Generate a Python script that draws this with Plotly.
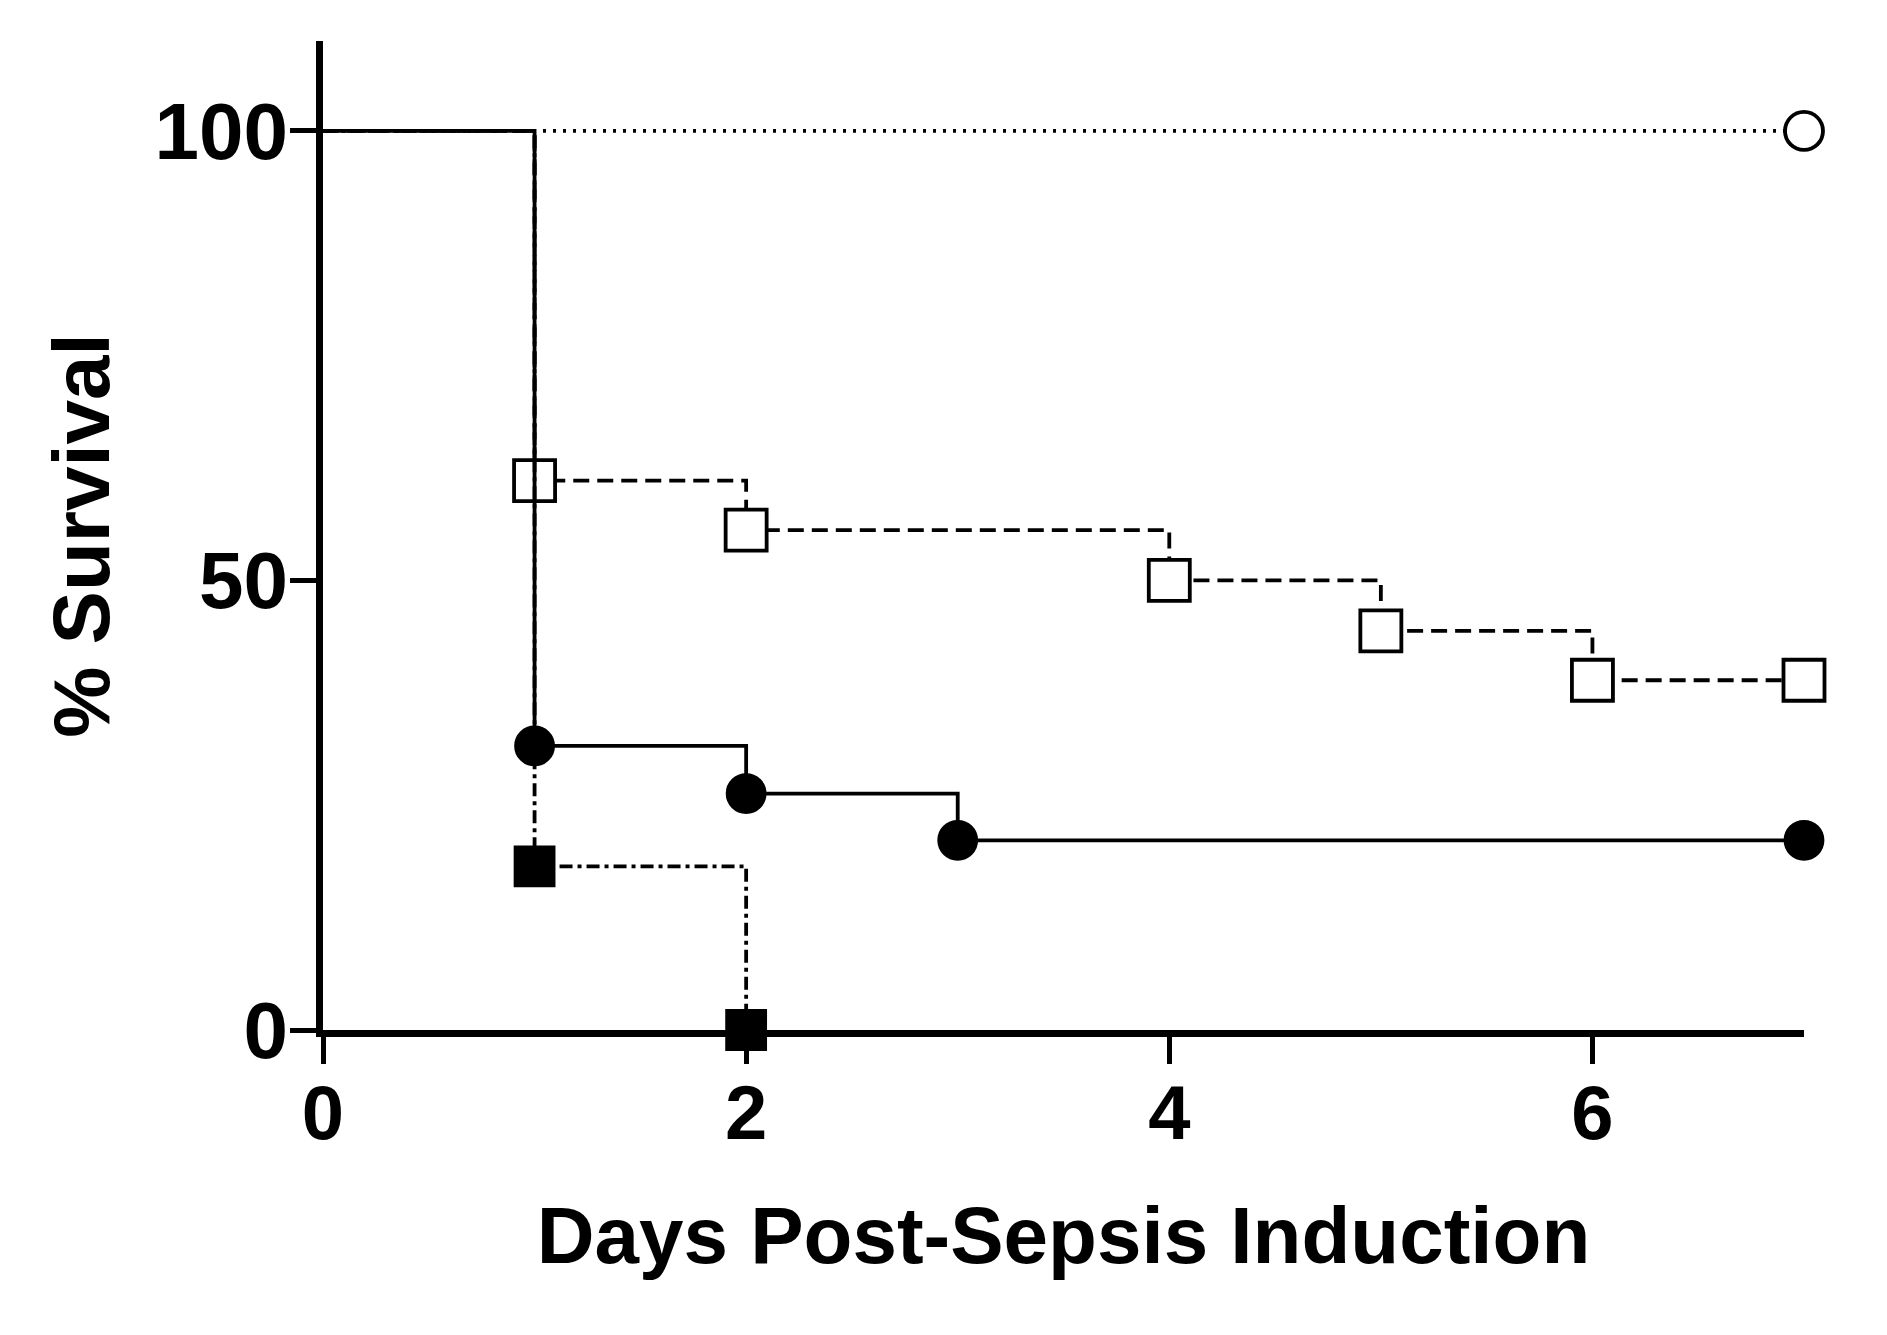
import plotly.graph_objects as go

# ---- data ----
days_sham = [0, 7]
surv_sham = [100, 100]

days_sq_open = [0, 1, 2, 4, 5, 6, 7]
surv_sq_open = [100, 61.1, 55.6, 50.0, 44.4, 38.9, 38.9]

days_circ = [0, 1, 2, 3, 7]
surv_circ = [100, 31.6, 26.3, 21.1, 21.1]

days_sq_fill = [0, 1, 2]
surv_sq_fill = [100, 18.2, 0]

x_ticks = [0, 2, 4, 6]
y_ticks = [0, 50, 100]

FONT = "Liberation Sans"

fig = go.Figure()


def add_curve(days, surv, dash, symbol, fill, msize, name):
    fig.add_trace(go.Scatter(
        x=days, y=surv, mode="lines", line_shape="hv",
        line=dict(color="black", width=3.8, dash=dash),
        hoverinfo="skip", showlegend=False, cliponaxis=False, name=name))
    fig.add_trace(go.Scatter(
        x=days[1:], y=surv[1:], mode="markers",
        marker=dict(symbol=symbol, size=msize, color=fill,
                    line=dict(color="black", width=3.8)),
        showlegend=False, cliponaxis=False, name=name))


add_curve(days_sham, surv_sham, "3px,7px", "circle", "white", 38, "Sham")
add_curve(days_sq_open, surv_sq_open, "16px,8px", "square", "white", 41, "Group A")
add_curve(days_sq_fill, surv_sq_fill, "13px,5px,4px,5px", "square", "black", 38, "Group C")
add_curve(days_circ, surv_circ, "solid", "circle", "black", 37, "Group B")

fig.update_layout(
    width=1887, height=1335, autosize=False,
    paper_bgcolor="white", plot_bgcolor="white",
    margin=dict(l=315, r=91, t=33, b=313),
    font=dict(family=FONT, color="black", size=78, weight="bold"),
    showlegend=False,
)

fig.update_xaxes(
    range=[0, 7], tickvals=x_ticks, ticktext=[str(v) for v in x_ticks],
    showline=True, linecolor="black", linewidth=7,
    ticks="outside", ticklen=27, tickwidth=5, tickcolor="black",
    showgrid=False, zeroline=False, layer="below traces",
    ticklabelstandoff=-16,
    tickfont=dict(family=FONT, size=76, weight="bold"),
    title=dict(text="Days Post-Sepsis Induction",
               font=dict(family=FONT, size=80, weight="bold"), standoff=55),
    automargin=False,
)
fig.update_yaxes(
    range=[0, 110], tickvals=y_ticks, ticktext=[str(v) for v in y_ticks],
    showline=True, linecolor="black", linewidth=7,
    ticks="outside", ticklen=26, tickwidth=5, tickcolor="black",
    showgrid=False, zeroline=False, layer="below traces",
    ticklabelstandoff=-14,
    tickfont=dict(family=FONT, size=80, weight="bold"),
    title=dict(text="% Survival",
               font=dict(family=FONT, size=80, weight="bold"), standoff=21),
    automargin=False,
)

fig.write_html("out.html")
